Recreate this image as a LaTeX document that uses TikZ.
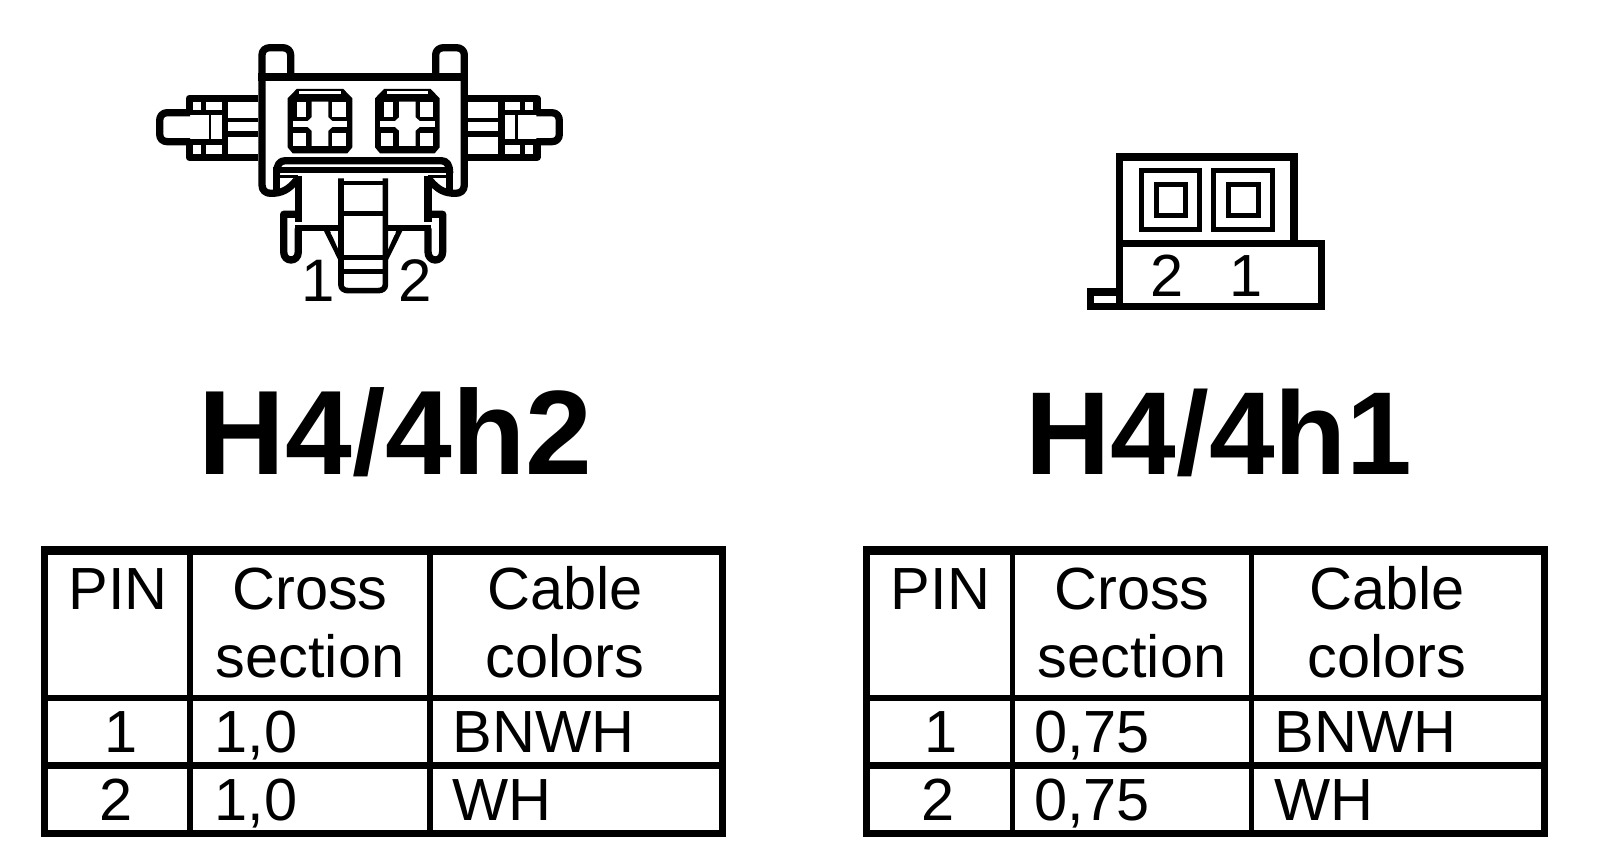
\documentclass[tikz,border=0pt]{standalone}
\usepackage{fontspec}
\setmainfont{Liberation Sans}
\newcommand\tabletext{\fontsize{59.5}{59.5}\selectfont}
\tikzset{
  lbl/.style={inner sep=0pt,outer sep=0pt,anchor=base,font=\tabletext,text=black},
  lblw/.style={lbl,anchor=base west},
  ttl/.style={inner sep=0pt,outer sep=0pt,anchor=base,font=\fontsize{#1}{#1}\selectfont\bfseries,text=black},
  rule/.style={draw=black,line width=#1,line cap=butt},
  rule/.default=6pt,
  stroke/.style={draw=black,line width=7.3pt,line join=round,line cap=round},
  bar/.style={draw=black,line width=#1/3,line cap=butt},
  heavy/.style={draw=black,line width=7.3pt,line join=miter}
}
\newcommand\tabHalf{%
  \path[stroke,line cap=butt] (355,205) -- (148,205) -- (148,248);
  \path[stroke,line cap=butt] (355,382) -- (148,382) -- (148,336);
  \path[bar=20] (255,205) -- (255,382);
  \path[bar=16] (191,205) -- (191,248);
  \path[bar=16] (191,382) -- (191,336);
  \path[bar=14] (148,248) -- (255,248);
  \path[bar=20] (148,336) -- (255,336);
  \path[bar=13] (255,271) -- (355,271);
  \path[bar=17] (255,313) -- (355,313);
  \path[bar=7] (210,248) -- (210,336);
}
\newcommand\latchHalf{%
  \path[stroke,line cap=butt] (366,140) -- (366,465) .. controls (366,482) and (378,490) .. (392,490)
     .. controls (425,490) and (445,480) .. (470,450);
  \path[bar=20] (410,480) -- (410,425);
  \path[bar=10] (418,440) -- (475,440);
  \path[stroke,line cap=butt] (475,438) -- (475,575);
  \path[stroke,line cap=butt] (475,553) -- (431,553) -- (431,665) .. controls (431,682) and (442,690) .. (453,690)
     .. controls (464,690) and (475,682) .. (475,665) -- (475,595);
  \path[bar=18] (466,594) -- (600,594);
  \path[fill=black] (552,603) -- (570,603) -- (600,670) -- (606,695) -- (595,690) -- cycle;
  \path[fill=white] (572,609) -- (592,609) -- (592,640) -- cycle;
  \path[bar=17] (603,445) -- (603,765) .. controls (603,775) and (612,782) .. (625,782) -- (669.5,782);
}
\newcommand\contactBlock{%
  \path[fill=black] (443,205) -- (470,177) -- (610,177) -- (637,205) -- (637,352)
     -- (622,370) -- (458,370) -- (443,352) -- cycle;
  \path[fill=white] (478,184) rectangle (602,191);
  \path[fill=white] (470,215) rectangle (497,260);
  \path[fill=white] (577,215) rectangle (617,260);
  \path[fill=white] (460,308) rectangle (497,348);
  \path[fill=white] (577,308) rectangle (617,348);
  \path[fill=white] (458,274) rectangle (622,290);
  \path[fill=white] (515,215) -- (565,215) -- (565,262) -- (578,274) -- (578,290) -- (565,302) -- (565,348)
     -- (515,348) -- (515,302) -- (502,290) -- (502,274) -- (515,262) -- cycle;
}
\begin{document}
\begin{tikzpicture}[x=1pt,y=-1pt]
\useasboundingbox (0,0) rectangle (1600,866);
\path[fill=white] (0,0) rectangle (1600,866);

% ---------- connector H4/4h2 ----------
\begin{scope}[xshift=140pt,yshift=-30pt,x=0.33333pt,y=-0.33333pt]
  \path[stroke,line cap=butt] (355,141) -- (985,141);
  \path[stroke,line cap=butt] (366,140) -- (366,75) .. controls (366,62) and (376,53) .. (390,53) -- (428,53)
      .. controls (442,53) and (452,62) .. (452,75) -- (452,140);
  \path[stroke,line cap=butt] (887,140) -- (887,75) .. controls (887,62) and (897,53) .. (911,53) -- (949,53)
      .. controls (963,53) and (973,62) .. (973,75) -- (973,140);
  \tabHalf
  \begin{scope}[shift={(1339,0)},xscale=-1]\tabHalf\latchHalf\end{scope}
  \latchHalf
  \path[stroke,line cap=butt] (150,248) -- (82,248) .. controls (68,248) and (59,258) .. (59,272) -- (59,312)
      .. controls (59,326) and (68,335) .. (82,335) -- (150,335);
  \path[stroke,line cap=butt] (1189,248) -- (1235,248) .. controls (1250,248) and (1258,258) .. (1258,272) -- (1258,312)
      .. controls (1258,326) and (1250,335) .. (1235,335) -- (1189,335);
  \foreach \d in {0,262}{\begin{scope}[shift={(\d,0)}]\contactBlock\end{scope}}
  \path[stroke,line cap=butt] (410,430) .. controls (410,405) and (418,392) .. (436,392) -- (903,392)
      .. controls (921,392) and (929,405) .. (929,430);
  \path[bar=20] (400,420) -- (939,420);
  \path[bar=14] (603,459) -- (735,459);
  \path[bar=15] (603,552) -- (735,552);
  \path[bar=17] (603,683) -- (735,683);
  \path[bar=14] (603,725) -- (735,725);
\end{scope}
\node[lbl,font=\fontsize{60}{60}\selectfont] (pinA) at (318,301.7) {1};
\node[lbl,font=\fontsize{60}{60}\selectfont] (pinB) at (415,301.7) {2};

% ---------- connector H4/4h1 ----------
\draw[heavy] (1119.7,244) -- (1119.7,157) -- (1294,157) -- (1294,244);
\draw[heavy] (1119.7,243.7) rectangle (1321.7,306.3);
\draw[heavy] (1119.7,292) -- (1090.7,292) -- (1090.7,306.3) -- (1119.7,306.3);
\foreach \n/\a/\b/\c/\e in {c/1141.5/1199.5/1156.5/1185.5, d/1213.5/1272.5/1228.5/1258}{
  \draw[black,line width=5pt] (\a,170.5) rectangle (\b,230);
  \draw[black,line width=5pt] (\c,185) rectangle (\e,215.5);
}
\node[lbl] (pinC) at (1167.5,296.7) {2};
\node[lbl] (pinD) at (1246,296.7) {1};

% ---------- titles ----------
\node[ttl=120] (titleA) at (395.5,474.5) {H4/4h2};
\node[ttl=118] (titleB) at (1219,474.5) {H4/4h1};

% ---------- left table ----------
\draw[black,line width=7.4pt] (44.7,550) rectangle (722.3,833.6);
\path[rule=8.7pt] (41,550.3) -- (726,550.3);
\path[rule=6pt] (190,550) -- (190,834);
\path[rule=6pt] (430,550) -- (430,834);
\path[rule=6pt] (44,698) -- (722,698);
\path[rule=7pt] (44,765.5) -- (722,765.5);
\node[lbl] (a1) at (118,609) {PIN};
\node[lbl] (a2) at (310,609) {Cross};
\node[lbl] (a3) at (310,677) {section};
\node[lbl] (a4) at (565,609) {Cable};
\node[lbl] (a5) at (565,677) {colors};
\node[lbl] (a6) at (121,752) {1};
\node[lblw] (a7) at (214.5,752) {1,0};
\node[lblw] (a8) at (452.5,752) {BNWH};
\node[lbl] (a9) at (116.5,820) {2};
\node[lblw] (a10) at (214.5,820) {1,0};
\node[lblw] (a11) at (452.5,820) {WH};

% ---------- right table ----------
\draw[black,line width=7.4pt] (866.7,550) rectangle (1544.3,833.6);
\path[rule=8.7pt] (863,550.3) -- (1548,550.3);
\path[rule=5.5pt] (1012.5,550) -- (1012.5,834);
\path[rule=5.5pt] (1251.7,550) -- (1251.7,834);
\path[rule=6pt] (866,698) -- (1544,698);
\path[rule=7pt] (866,765.5) -- (1544,765.5);
\node[lbl] (b1) at (940.5,609) {PIN};
\node[lbl] (b2) at (1132,609) {Cross};
\node[lbl] (b3) at (1132,677) {section};
\node[lbl] (b4) at (1387,609) {Cable};
\node[lbl] (b5) at (1387,677) {colors};
\node[lbl] (b6) at (941.5,752) {1};
\node[lblw] (b7) at (1034,752) {0,75};
\node[lblw] (b8) at (1274.5,752) {BNWH};
\node[lbl] (b9) at (938.5,820) {2};
\node[lblw] (b10) at (1034,820) {0,75};
\node[lblw] (b11) at (1274.5,820) {WH};
\end{tikzpicture}
\end{document}
